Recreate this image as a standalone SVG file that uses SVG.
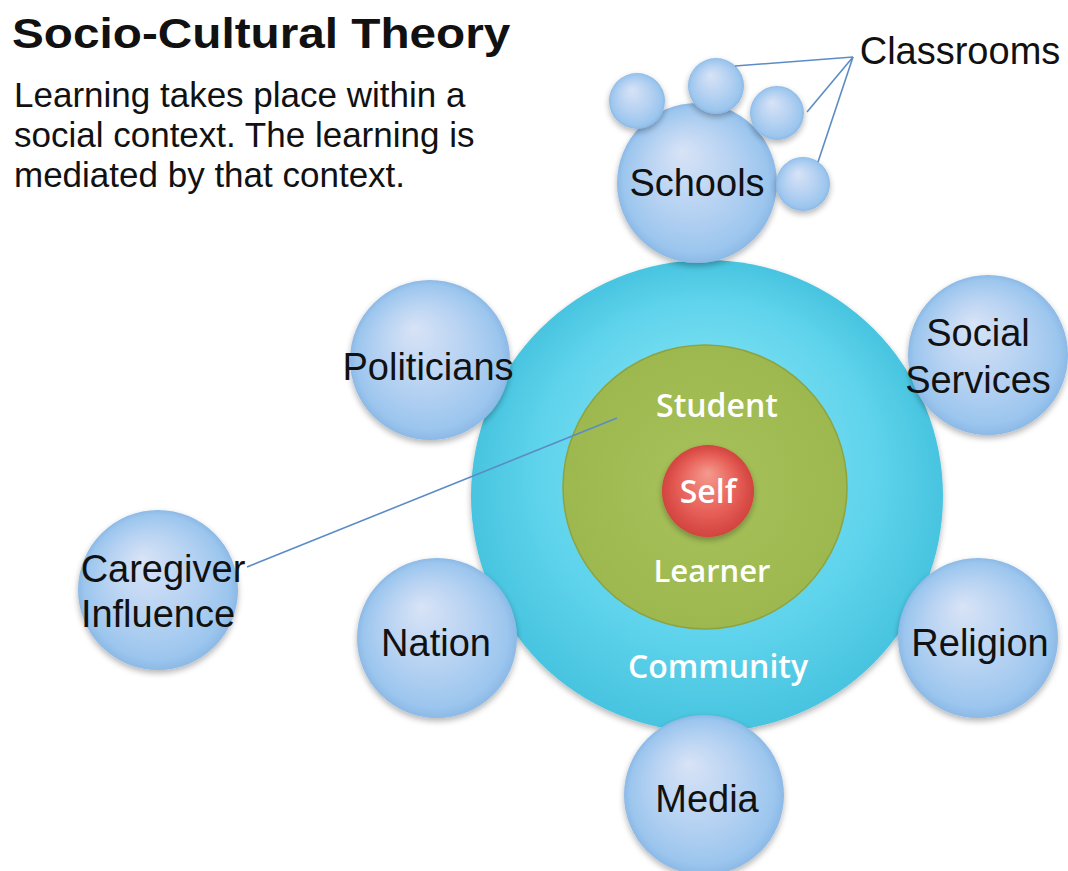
<svg xmlns="http://www.w3.org/2000/svg" width="1068" height="871" viewBox="0 0 1068 871">
<defs>
<radialGradient id="sat" cx="0.5" cy="0.5" r="0.5" fx="0.4" fy="0.3">
<stop offset="0" stop-color="#d8e3f6"/>
<stop offset="0.55" stop-color="#b6d2f2"/>
<stop offset="0.9" stop-color="#9cc6ee"/>
<stop offset="1" stop-color="#8cb9e6"/>
</radialGradient>
<radialGradient id="comm" cx="0.5" cy="0.5" r="0.5" fx="0.5" fy="0.3">
<stop offset="0" stop-color="#86e4f4"/>
<stop offset="0.7" stop-color="#60d4ec"/>
<stop offset="1" stop-color="#48c4e0"/>
</radialGradient>
<radialGradient id="green" cx="0.5" cy="0.5" r="0.5">
<stop offset="0" stop-color="#a8c25c"/>
<stop offset="1" stop-color="#9db84e"/>
</radialGradient>
<radialGradient id="self" cx="0.5" cy="0.5" r="0.5" fx="0.5" fy="0.3">
<stop offset="0" stop-color="#f49a8e"/>
<stop offset="0.6" stop-color="#e8625a"/>
<stop offset="1" stop-color="#d2433f"/>
</radialGradient>
<filter id="shadow" x="-20%" y="-20%" width="140%" height="140%">
<feGaussianBlur in="SourceAlpha" stdDeviation="3"/>
<feOffset dx="0" dy="3" result="b"/>
<feComponentTransfer><feFuncA type="linear" slope="0.3"/></feComponentTransfer>
<feMerge><feMergeNode/><feMergeNode in="SourceGraphic"/></feMerge>
</filter>
</defs>
<style>
.sat{fill:url(#sat);filter:url(#shadow)}
.lbl{font-family:"Liberation Sans",Arial,sans-serif;font-size:38px;fill:#111;text-anchor:middle}
.inner{font-family:"Open Sans","Liberation Sans",sans-serif;font-weight:600;fill:#fff;text-anchor:middle}
.conn{stroke:#5b8cc6;stroke-width:1.6;fill:none}
.title{font-family:"Liberation Sans",Arial,sans-serif;font-weight:bold;font-size:43px;fill:#111}
.body{font-family:"Liberation Sans",Arial,sans-serif;font-size:35px;fill:#111}
</style>
<rect width="1068" height="871" fill="#fff"/>

<g id="title">
<text class="title" transform="translate(12,48) scale(1.11,1)" x="0" y="0">Socio-Cultural Theory</text>
<text class="body" x="14" y="107">Learning takes place within a</text>
<text class="body" x="14" y="147">social context. The learning is</text>
<text class="body" x="14" y="187">mediated by that context.</text>
</g>

<g id="community">
<circle cx="707" cy="496" r="236" fill="url(#comm)" filter="url(#shadow)"/>
<text class="inner" x="718" y="678" font-size="32">Community</text>
</g>
<g id="student">
<circle cx="705" cy="487" r="142" fill="url(#green)" stroke="#8ea23f" stroke-width="1.5"/>
<text class="inner" x="717" y="417" font-size="32">Student</text>
<text class="inner" x="712" y="582" font-size="31">Learner</text>
</g>
<g id="self">
<circle cx="708" cy="491" r="46" fill="url(#self)" filter="url(#shadow)"/>
<text class="inner" x="708" y="503" font-size="32">Self</text>
</g>

<g id="schools">
<circle class="sat" cx="697" cy="183" r="80"/>
<text class="lbl" x="697" y="196">Schools</text>
</g>
<g id="classroom1"><circle class="sat" cx="637" cy="101" r="28"/></g>
<g id="classroom2"><circle class="sat" cx="716" cy="86" r="28"/></g>
<g id="classroom3"><circle class="sat" cx="777" cy="113" r="27"/></g>
<g id="classroom4"><circle class="sat" cx="803" cy="184" r="27"/></g>
<g id="classrooms">
<text class="lbl" x="960" y="64" font-size="33">Classrooms</text>
</g>

<g id="politicians">
<circle class="sat" cx="430" cy="360" r="80"/>
<text class="lbl" x="428" y="380">Politicians</text>
</g>
<g id="social-services">
<circle class="sat" cx="988" cy="355" r="80"/>
<text class="lbl" x="978" y="346">Social</text>
<text class="lbl" x="978" y="393">Services</text>
</g>
<g id="caregiver">
<circle class="sat" cx="158" cy="590" r="80"/>
<text class="lbl" x="163" y="582">Caregiver</text>
<text class="lbl" x="158" y="627">Influence</text>
</g>
<g id="nation">
<circle class="sat" cx="437" cy="638" r="80"/>
<text class="lbl" x="436" y="656">Nation</text>
</g>
<g id="religion">
<circle class="sat" cx="978" cy="638" r="80"/>
<text class="lbl" x="980" y="656">Religion</text>
</g>
<g id="media">
<circle class="sat" cx="704" cy="795" r="80"/>
<text class="lbl" x="707" y="812">Media</text>
</g>

<g id="connectors">
<path class="conn" d="M853 57 L735 66"/>
<path class="conn" d="M853 57 L807 112"/>
<path class="conn" d="M853 57 L818 162"/>
<path class="conn" d="M247 567 L617 418"/>
</g>
</svg>
